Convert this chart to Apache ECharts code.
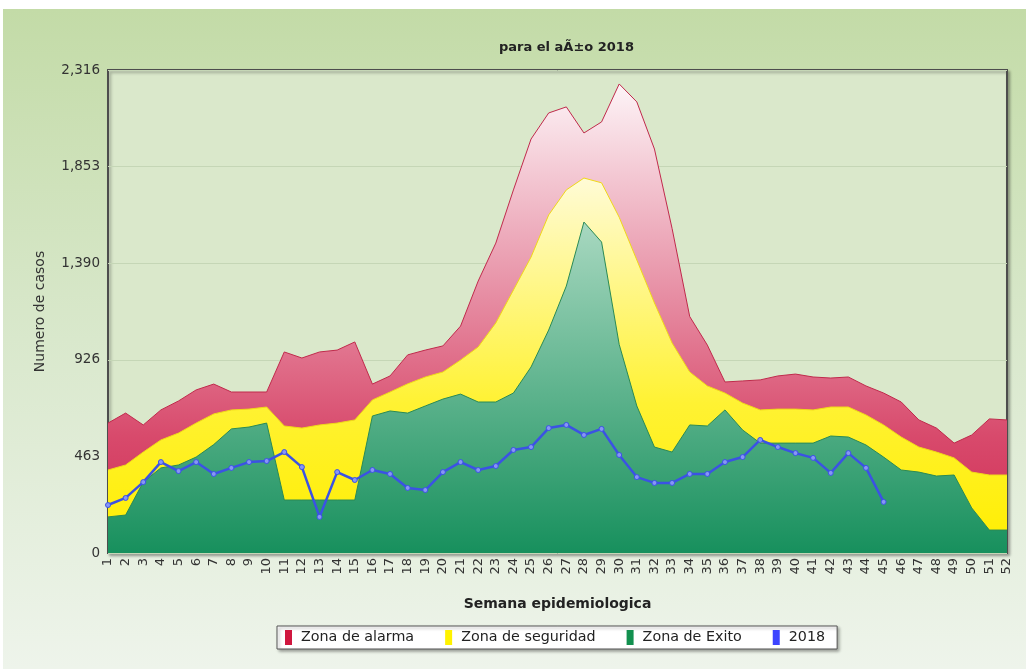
<!DOCTYPE html>
<html>
<head>
<meta charset="utf-8">
<script src="https://cdn.jsdelivr.net/npm/echarts@6/dist/echarts.min.js"></script>
<style>
  html, body { margin: 0; padding: 0; background: #ffffff; width: 1026px; height: 669px; overflow: hidden; }
  #chart { position: absolute; left: 3px; top: 9px; width: 1023px; height: 660px; }
</style>
</head>
<body>
<div id="chart"></div>
<script>
const weeks = ['1','2','3','4','5','6','7','8','9','10','11','12','13','14','15','16','17','18','19','20','21','22','23','24','25','26','27','28','29','30','31','32','33','34','35','36','37','38','39','40','41','42','43','44','45','46','47','48','49','50','51','52'];

const zonaAlarma = [623,671,614,686,729,782,810,772,772,772,964,935,964,973,1012,810,849,950,973,993,1088,1304,1486,1741,1985,2110,2139,2014,2067,2249,2163,1937,1556,1134,997,820,825,830,849,858,844,839,844,801,767,724,638,599,527,566,643,638];

const zonaSeguridad = [398,422,484,542,575,623,667,686,690,700,609,599,614,623,638,734,772,811,844,868,925,988,1103,1261,1419,1621,1741,1798,1775,1610,1405,1199,1007,868,801,767,719,686,690,690,686,700,700,662,614,556,508,484,456,388,374,374];

const zonaExito = [173,182,340,408,422,460,520,595,604,623,254,254,254,254,254,657,681,671,705,738,762,724,724,767,892,1069,1280,1587,1491,1000,705,508,484,614,609,686,590,527,527,527,527,561,556,518,460,398,388,369,374,216,110,110];

const casos2018 = [230,264,340,436,393,436,379,408,436,441,484,412,173,388,350,398,379,312,302,388,436,398,417,494,508,599,614,566,595,470,364,336,336,379,379,436,460,542,508,479,456,384,479,408,245];

const yMax = 2316;
const yTickCount = 5;

const chart = echarts.init(document.getElementById('chart'), null, { renderer: 'canvas' });

function grad(stops) {
  return new echarts.graphic.LinearGradient(0, 0, 0, 1, stops.map(s => ({ offset: s[0], color: s[1] })));
}

const font = 'DejaVu Sans, Verdana, sans-serif';

chart.setOption({
  animation: false,
  backgroundColor: grad([[0, '#c3dba7'], [0.5, '#d9e8cc'], [1, '#eef4eb']]),
  title: {
    text: 'para el aÃ±o 2018',
    left: 491,
    top: 27,
    textStyle: { fontFamily: font, fontSize: 13, fontWeight: 'bold', color: '#222' }
  },
  legend: {
    left: 274,
    top: 617,
    padding: [4, 12, 4, 8],
    itemWidth: 7,
    itemHeight: 15,
    itemGap: 31,
    icon: 'rect',
    backgroundColor: '#ffffff',
    borderColor: '#555555',
    borderWidth: 1,
    shadowColor: 'rgba(0,0,0,0.35)',
    shadowBlur: 3,
    shadowOffsetX: 2,
    shadowOffsetY: 2,
    textStyle: { fontFamily: font, fontSize: 14.3, color: '#222', padding: [0, 0, 0, 4] },
    data: [
      { name: 'Zona de alarma', itemStyle: { color: '#d0173f', borderWidth: 0 } },
      { name: 'Zona de seguridad', itemStyle: { color: '#fff200', borderWidth: 0 } },
      { name: 'Zona de Exito', itemStyle: { color: '#12904f', borderWidth: 0 } },
      { name: '2018', itemStyle: { color: '#3d45ff', borderWidth: 0 } }
    ]
  },
  grid: {
    left: 105,
    top: 61,
    width: 899,
    height: 483,
    show: true,
    backgroundColor: '#dae8cb',
    borderColor: '#4d4d4d',
    borderWidth: 2,
    shadowColor: 'rgba(0,0,0,0.3)',
    shadowBlur: 3,
    shadowOffsetX: 2,
    shadowOffsetY: 2
  },
  xAxis: {
    type: 'category',
    data: weeks,
    boundaryGap: false,
    name: 'Semana epidemiologica',
    nameLocation: 'middle',
    nameGap: 44,
    nameTextStyle: { fontFamily: font, fontSize: 14, fontWeight: 'bold', color: '#222' },
    axisLine: { show: false },
    axisTick: { show: false },
    axisLabel: { interval: 0, rotate: 90, margin: 5, fontFamily: font, fontSize: 13, color: '#333' },
    splitLine: { show: false }
  },
  yAxis: {
    type: 'value',
    min: 0,
    max: yMax,
    interval: yMax / yTickCount,
    name: 'Numero de casos',
    nameLocation: 'middle',
    nameGap: 61,
    nameTextStyle: { fontFamily: font, fontSize: 14, color: '#333' },
    axisLine: { show: false },
    axisTick: { show: false },
    axisLabel: {
      margin: 8,
      fontFamily: font,
      fontSize: 13.5,
      color: '#333',
      formatter: v => Math.round(v).toLocaleString('en-US')
    },
    splitLine: { show: true, lineStyle: { color: '#c5d6b6', width: 1 } }
  },
  series: [
    {
      name: 'Zona de alarma',
      type: 'line',
      data: zonaAlarma,
      symbol: 'none',
      itemStyle: { color: '#d0173f' },
      lineStyle: { color: '#c02a4c', width: 1 },
      areaStyle: { color: grad([[0, '#fdf4f7'], [0.75, '#d84a6c'], [1, '#cf2a52']]), opacity: 1 },
      z: 1
    },
    {
      name: 'Zona de seguridad',
      type: 'line',
      data: zonaSeguridad,
      symbol: 'none',
      itemStyle: { color: '#fff200' },
      lineStyle: { color: '#f0d818', width: 1 },
      areaStyle: { color: grad([[0, '#fffbd6'], [0.6, '#fff233'], [1, '#ffee00']]), opacity: 1 },
      z: 2
    },
    {
      name: 'Zona de Exito',
      type: 'line',
      data: zonaExito,
      symbol: 'none',
      itemStyle: { color: '#12904f' },
      lineStyle: { color: '#2a8a55', width: 1 },
      areaStyle: { color: grad([[0, '#a8d8c0'], [1, '#17905d']]), opacity: 1 },
      z: 3
    },
    {
      name: '2018',
      type: 'line',
      data: casos2018,
      symbol: 'circle',
      symbolSize: 5,
      showSymbol: true,
      itemStyle: { color: '#8796f5', borderColor: '#3b52e4', borderWidth: 1 },
      lineStyle: { color: '#3b52e4', width: 2.5 },
      z: 4
    }
  ]
});
</script>
</body>
</html>
